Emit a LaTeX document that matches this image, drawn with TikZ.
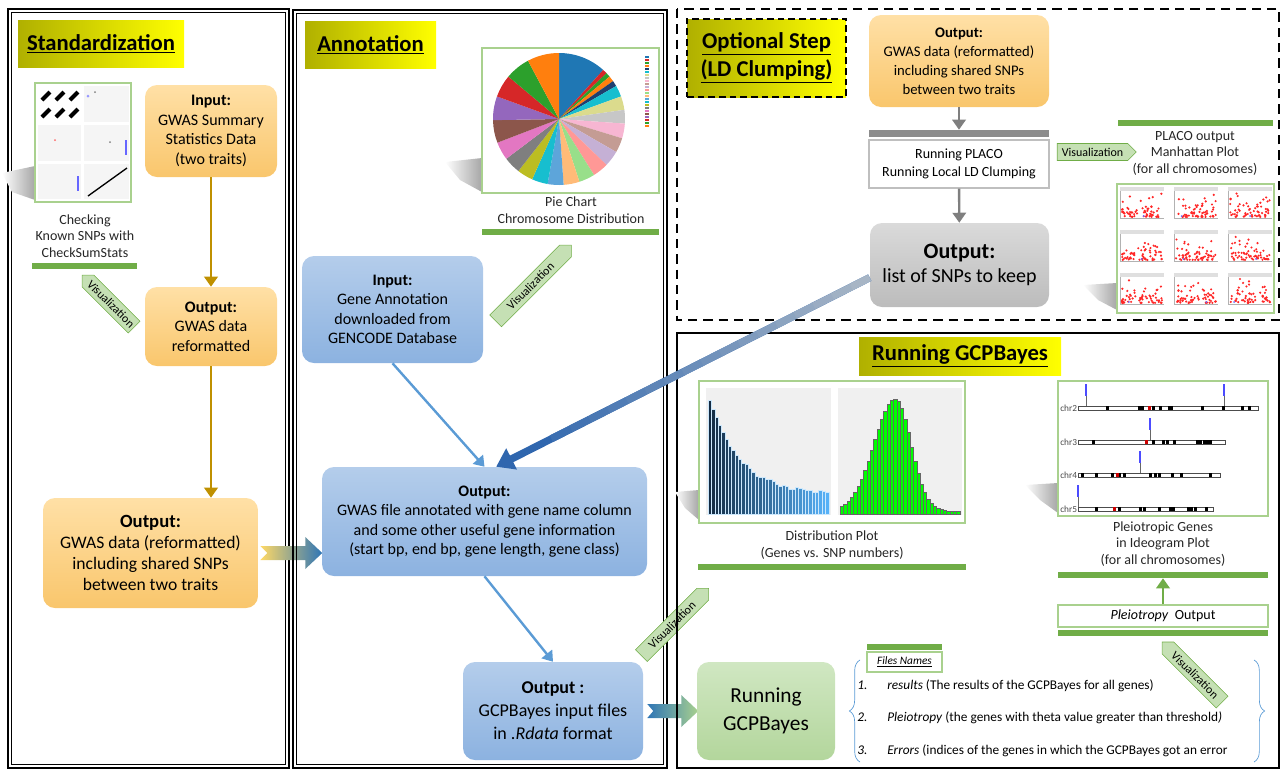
\documentclass[tikz,border=0pt]{standalone}
\usepackage{fontspec}
\setmainfont{Carlito}
\usepackage{tikz}
\usetikzlibrary{positioning,calc,arrows.meta,shapes.symbols,decorations.pathreplacing}

\definecolor{orangeT}{HTML}{FFE0A6}
\definecolor{orangeB}{HTML}{F9C66C}
\definecolor{blueT}{HTML}{B4CDEB}
\definecolor{blueB}{HTML}{8CB2E0}
\definecolor{greyT}{HTML}{DADADA}
\definecolor{greyB}{HTML}{BCBCBC}
\definecolor{greenT}{HTML}{D0E7C2}
\definecolor{greenB}{HTML}{B3D69C}
\definecolor{headL}{HTML}{B0B000}
\definecolor{headR}{HTML}{FFFF00}
\definecolor{barGreen}{HTML}{70AD47}
\definecolor{tagGreen}{HTML}{C5E0B4}
\definecolor{imgGreen}{HTML}{A9D18E}
\definecolor{gold}{HTML}{BF9000}
\definecolor{skyArrow}{HTML}{5B9BD5}
\definecolor{steel}{HTML}{2F66AE}
\definecolor{tailGrey}{HTML}{B4BEC8}
\definecolor{greyArrow}{HTML}{7F7F7F}
\definecolor{chevYellow}{HTML}{FFD966}
\definecolor{chevBlue}{HTML}{2E75B6}
\definecolor{distNavy}{HTML}{132B43}
\definecolor{distSky}{HTML}{56B1F7}
\definecolor{distGreen}{HTML}{00FF00}
% pie colours
\definecolor{tabblue}{HTML}{1F77B4}
\definecolor{tabred}{HTML}{D62728}
\definecolor{tabgreen}{HTML}{2CA02C}
\definecolor{taborange}{HTML}{FF7F0E}
\definecolor{tabnavy}{HTML}{1F3F6F}
\definecolor{tabcyan}{HTML}{17BECF}
\definecolor{tabolivel}{HTML}{DBDB8D}
\definecolor{tabgreyl}{HTML}{C7C7C7}
\definecolor{tabpinkl}{HTML}{F7B6D2}
\definecolor{tabbrownl}{HTML}{C49C94}
\definecolor{tablilac}{HTML}{C5B0D5}
\definecolor{tabsalmon}{HTML}{FF9896}
\definecolor{tabgreenl}{HTML}{98DF8A}
\definecolor{tabpeach}{HTML}{FFBB78}
\definecolor{tabmid}{HTML}{5DA5DA}
\definecolor{tabolive}{HTML}{BCBD22}
\definecolor{tabgrey}{HTML}{7F7F7F}
\definecolor{tabpink}{HTML}{E377C2}
\definecolor{tabbrown}{HTML}{8C564B}
\definecolor{tabpurple}{HTML}{9467BD}

\tikzset{
  boxsize/.style 2 args={minimum width=#1*0.75pt, minimum height=#2*0.75pt},
  heading/.style={left color=headL, right color=headR, align=center, inner sep=0pt,
    font=\fontsize{17}{21}\selectfont\bfseries},
  orangebox/.style={rounded corners=9pt, top color=orangeT, bottom color=orangeB,
    align=center, inner sep=1pt, font=\fontsize{12}{14.6}\selectfont},
  bluebox/.style={rounded corners=9pt, top color=blueT, bottom color=blueB,
    align=center, inner sep=1pt, font=\fontsize{12}{14.6}\selectfont},
  greybox/.style={rounded corners=9pt, top color=greyT, bottom color=greyB,
    align=center, inner sep=1pt},
  greenbox/.style={rounded corners=9pt, top color=greenT, bottom color=greenB,
    align=center, inner sep=1pt},
  thumb/.style={draw=imgGreen, line width=1.4pt, fill=white, inner sep=0pt},
  capt/.style={align=center, inner sep=0pt, text=black!85, font=\fontsize{10.5}{12.4}\selectfont},
  greenbar/.style={fill=barGreen, inner sep=0pt, minimum height=4.5pt},
  vis/.style={signal, signal to=#1, draw=barGreen, fill=tagGreen, inner sep=1.5pt,
    minimum height=12.5pt, font=\fontsize{9}{10}\selectfont},
  flow/.style={line width=2.2pt, -{Triangle[length=7.5pt,width=10pt]}},
  fade/.style={left color=white, right color=black!35, draw=none},
  item/.style={anchor=west, inner sep=0pt, font=\fontsize{10}{12}\selectfont}
}

\begin{document}
\begin{tikzpicture}[x=0.75pt,y=-0.75pt]
  \useasboundingbox (0,0) rectangle (1281,772);
  \pgfmathsetseed{11}

  %%%%% STANDARDIZATION
  \draw[line width=2pt] (8,9) rectangle (289,768);
  \draw[line width=0.7pt] (11.5,12.5) rectangle (285.5,764.5);
  \node[heading, boxsize={166}{47}] (HSTD) at (101,43.5) {\underline{Standardization}};
  \shade[fade] (35,166) -- (2,173) -- (12,192) -- (35,200) -- cycle;
  \node[thumb, boxsize={96}{119}] (CHECKIMG) at (83,142.5) {};
  \begin{scope}
    \fill[gray!8] (84,86) rectangle (129,122);
    \fill[gray!8] (38,125) rectangle (81,161);
    \fill[gray!8] (84,125) rectangle (129,161);
    \fill[gray!8] (38,164) rectangle (81,199);
    \fill[gray!8] (84,164) rectangle (129,199);
    \foreach \bx in {46,60,74}
      \foreach \by in {96,113}
        \draw[line width=3pt, black] (\bx-4,\by+4) -- (\bx+4,\by-4);
    \fill[blue!40] (88,96) circle[radius=1.5];
    \fill[gray] (95,92) circle[radius=1];
    \fill[red!60] (55,140) circle[radius=1];
    \fill[gray] (110,142) circle[radius=1];
    \fill[blue!60] (125,140) rectangle (127,155);
    \fill[blue!60] (77,176) rectangle (79,191);
    \draw[black, line width=1pt] (88,196) -- (127,168);
  \end{scope}
  \node[capt] (CHECKCAP) at (85,236) {Checking\\Known SNPs with\\CheckSumStats};
  \node[greenbar, minimum width=105*0.75pt] (CHECKBAR) at (84.5,265.5) {};
  \node[vis=west, rotate=-45, minimum width=70*0.75pt] (VISCHECK) at (111,304) {Visualization};

  \node[orangebox, boxsize={132}{92}] (INPUT) at (211,131)
    {\textbf{Input:}\\GWAS Summary\\Statistics Data\\(two traits)};
  \node[orangebox, boxsize={132}{79}] (REFORM) at (211,326.5)
    {\textbf{Output:}\\GWAS data\\reformatted};
  \node[orangebox, boxsize={215}{110}, font=\fontsize{13.2}{15.8}\selectfont] (SHARED) at (150.5,553)
    {{\fontsize{14}{16}\selectfont\bfseries Output:}\\GWAS data (reformatted)\\including shared SNPs\\between two traits};
  \draw[flow, gold] (INPUT) -- (REFORM);
  \draw[flow, gold] (REFORM.south) -- (REFORM.south |- SHARED.north);
  \begin{scope}[shift={(SHARED.east)}]
    \shade[left color=chevYellow, middle color=chevYellow!45!chevBlue, right color=chevBlue]
      (2,-7) -- (47,-7) -- (47,-16) -- (64,0) -- (47,16) -- (47,7) -- (2,7) -- (9,0) -- cycle;
  \end{scope}

  %%%%% ANNOTATION
  \draw[line width=2pt] (293,10) rectangle (667,768);
  \draw[line width=0.7pt] (296.5,13.5) rectangle (663.5,764.5);
  \node[heading, boxsize={131}{47}] (HANN) at (370.5,44.5) {\underline{Annotation}};
  \shade[fade] (482,158) -- (445,162) -- (460,180) -- (482,192) -- cycle;
  \node[thumb, boxsize={177}{145}] (PIEIMG) at (570.5,120.5) {};
  \begin{scope}[shift={(559,119)}]
    \foreach \a/\b/\c [count=\i] in {270/312/tabblue, 312/316/tabred, 316/320/tabgreen,
        320/325/taborange, 325/330/tabnavy, 330/340/tabcyan, 340/352/tabolivel,
        352/364/tabgreyl, 364/377/tabpinkl, 377/390/tabbrownl, 390/404/tablilac,
        404/418/tabsalmon, 418/432/tabgreenl, 432/446/tabpeach, 446/460/tabmid,
        460/474/tabcyan, 474/488/tabolive, 488/503/tabgrey, 503/519/tabpink,
        519/539/tabbrown, 539/560/tabpurple, 560/580/tabred, 580/602/tabgreen,
        602/630/taborange} {
      \fill[\c] (0,0) -- (\a:66) arc[start angle=\a, end angle=\b, radius=66] -- cycle;
      \fill[\c] (86,-66+3*\i) rectangle ++(4,2);
    }
  \end{scope}
  \node[capt] (PIECAP) at (571,210) {Pie Chart\\Chromosome Distribution};
  \node[greenbar, minimum width=177*0.75pt] (PIEBAR) at (570.5,232) {};
  \node[vis=east, rotate=45, minimum width=107*0.75pt] (VISPIE) at (530.5,286) {Visualization};

  \node[bluebox, boxsize={181}{107}] (GENEIN) at (392.5,309.5)
    {\textbf{Input:}\\Gene Annotation\\downloaded from\\GENCODE Database};
  \node[bluebox, boxsize={325}{109}] (ANNOT) at (484.5,521.5)
    {\textbf{Output:}\\GWAS file annotated with gene name column\\and some other useful gene information\\(start bp, end bp, gene length, gene class)};
  \node[bluebox, boxsize={180}{98}, font=\fontsize{13.5}{17.2}\selectfont] (GCPIN) at (553,711)
    {\textbf{Output :}\\GCPBayes input files\\in .\textit{Rdata} format};
  \draw[flow, skyArrow, line width=1.8pt] (GENEIN.south) -- (ANNOT.north);
  \draw[flow, skyArrow, line width=1.8pt] (ANNOT.south) -- (GCPIN.north);
  \node[vis=east, rotate=45, minimum width=95*0.75pt] (VISDIST) at (672,625) {Visualization};
  \begin{scope}[shift={(GCPIN.east)}]
    \shade[left color=chevBlue, right color=imgGreen]
      (4,-7) -- (38,-7) -- (38,-16) -- (55,0) -- (38,16) -- (38,7) -- (4,7) -- (10,0) -- cycle;
  \end{scope}

  %%%%% OPTIONAL STEP
  \draw[line width=2.2pt, dash pattern=on 7pt off 4.5pt] (677,9) rectangle (1279,320);
  \node[heading, draw, line width=1.4pt, dash pattern=on 5pt off 3pt, boxsize={159}{78}] (HOPT) at (766.5,58)
    {\underline{Optional Step}\\\underline{(LD Clumping)}};
  \node[orangebox, boxsize={180}{92}, font=\fontsize{11}{14.2}\selectfont] (SHARED2) at (959,61)
    {\textbf{Output:}\\GWAS data (reformatted)\\including shared SNPs\\between two traits};
  \node[fill=greyArrow!90, inner sep=0pt, boxsize={180}{7}] (GREYBAR) at (959,133.5) {};
  \node[draw=black!25, fill=white, line width=0.8pt, boxsize={180}{48}, align=center,
    font=\fontsize{10.5}{13.8}\selectfont] (PLACO) at (959,164) {Running PLACO\\Running Local LD Clumping};
  \node[greybox, boxsize={179}{84}, font=\fontsize{15}{18}\selectfont] (KEEP) at (959.5,265)
    {{\fontsize{16.5}{18}\selectfont\bfseries Output:}\\list of SNPs to keep};
  \draw[flow, greyArrow, line width=1.8pt] (SHARED2) -- (GREYBAR);
  \draw[flow, greyArrow, line width=1.8pt] (PLACO) -- (KEEP);
  \node[vis=east, boxsize={79}{17}] (VISPLACO) at (1092.5,152) {Visualization};
  \node[greenbar, minimum width=155*0.75pt] (MANBAR) at (1195.5,123) {};
  \node[capt] (MANCAP) at (1195,153) {PLACO output\\Manhattan Plot\\(for all chromosomes)};
  \shade[fade] (1117,283) -- (1083,285) -- (1098,300) -- (1117,310) -- cycle;
  \node[thumb, boxsize={157}{129}] (MANIMG) at (1195.5,248.5) {};
  \foreach \cx in {1120,1174,1228}
    \foreach \ry in {187,230,273} {
      \fill[gray!25] (\cx,\ry) rectangle ++(44,4);
      \draw[gray!60, line width=0.2pt] (\cx,\ry+4) -- (\cx,\ry+31) -- (\cx+44,\ry+31);
      \foreach \k in {1,...,60} {
        \pgfmathsetmacro\dx{2+40*rnd}
        \pgfmathsetmacro\dy{25*rnd*rnd}
        \fill[red!85] (\cx+\dx,\ry+30-\dy) circle[radius=1.2];
      }
      \fill[blue!60] (\cx+30*rnd+5,\ry+29) circle[radius=1];
    }

  %%%%% RUNNING GCPBAYES
  \draw[line width=2.2pt] (677,333) rectangle (1279,768);
  \node[heading, boxsize={202}{38}] (HGCP) at (960,356) {\underline{Running GCPBayes}};
  \shade[fade] (699,490) -- (675,492) -- (685,508) -- (699,520) -- cycle;
  \node[thumb, boxsize={266}{142}] (DISTIMG) at (832,452) {};
  \fill[gray!12] (706,388) rectangle (831,515);
  \fill[gray!12] (838,388) rectangle (962,515);
  \foreach \i in {0,...,35} {
    \pgfmathsetmacro\h{18+95*exp(-\i/9)+4*rnd}
    \pgfmathtruncatemacro\m{100-100*\i/35}
    \filldraw[fill=distNavy!\m!distSky, draw=white!70!distSky, line width=0.15pt] (708+3.35*\i,514) rectangle ++(3.35,-\h);
    \pgfmathsetmacro\g{3+112*exp(-((\i-16)^2)/ifthenelse(\i<16,80,45))}
    \filldraw[fill=distGreen, draw=black!60, line width=0.15pt] (840+3.33*\i,514) rectangle ++(3.33,-\g);
  }
  \node[capt] (DISTCAP) at (832,545) {Distribution Plot\\(Genes vs. SNP numbers)};
  \node[greenbar, minimum width=268*0.75pt] (DISTBAR) at (832,567) {};

  \shade[fade] (1058,483) -- (1025,485) -- (1040,500) -- (1058,513) -- cycle;
  \node[thumb, boxsize={210}{135}] (IDEOIMG) at (1163,448.5) {};
  \foreach \y/\e/\c/\lab [count=\i] in {408/1258/1148/chr2, 442/1225/1145/chr3,
      475/1220/1116/chr4, 509/1213/1113/chr5} {
    \node[anchor=west, inner sep=0pt, text=black!70, font=\fontsize{7}{8}\selectfont] (CHR\i) at (1060,\y) {\lab};
    \draw[black!70, line width=0.4pt, fill=white] (1078,\y-2) rectangle (\e,\y+2);
    \foreach \k in {1,...,12} {
      \pgfmathsetmacro\bx{1080+(\e-1086)*rnd}
      \fill[black] (\bx,\y-2) rectangle ++(3,4);
    }
    \fill[red!80!black] (\c,\y-2) rectangle ++(3,4);
  }
  \foreach \gx/\gy in {1086/408, 1224/408, 1150/442, 1140/475, 1078/509} {
    \draw[blue!70, line width=1.2pt] (\gx,\gy-24) -- (\gx,\gy-12);
    \draw[black!60, line width=0.3pt] (\gx,\gy-12) -- (\gx,\gy-2);
  }
  \node[capt] (IDEOCAP) at (1163,544) {Pleiotropic Genes\\in Ideogram Plot\\(for all chromosomes)};
  \node[greenbar, minimum width=210*0.75pt] (IDEOBAR) at (1163,575) {};
  \node[draw=imgGreen, line width=1pt, fill=white, boxsize={210}{22},
    font=\fontsize{10.5}{12}\selectfont] (PLEIO) at (1163,616) {\textit{Pleiotropy}\ \ Output};
  \node[greenbar, minimum width=210*0.75pt] (PLEIOBAR) at (1163,632.5) {};
  \draw[flow, barGreen] (PLEIO) -- (IDEOBAR);
  \node[vis=west, rotate=-45, minimum width=85*0.75pt] (VISPLEIO) at (1195,675) {Visualization};

  \node[greenbox, boxsize={138}{98}, font=\fontsize{16}{21}\selectfont] (RUNGCP) at (766,711) {Running\\GCPBayes};
  \node[greenbar, minimum width=75*0.75pt] (FILESBAR) at (904.5,647) {};
  \node[draw=imgGreen, line width=0.8pt, fill=white, boxsize={75}{20},
    font=\fontsize{8.5}{10}\selectfont] (FILES) at (904.5,662) {\textit{\underline{Files Names}}};
  \draw[skyArrow, line width=0.5pt, decorate, decoration={brace, amplitude=8pt}] (860,762) -- (860,660);
  \draw[skyArrow, line width=0.5pt, decorate, decoration={brace, amplitude=8pt}] (1254,660) -- (1254,762);
  \node[item] (ITEMA) at (857,686) {\makebox[22.5pt][l]{\textit{1.}}\textit{results} (The results of the GCPBayes for all genes)};
  \node[item] (ITEMB) at (857,718) {\makebox[22.5pt][l]{\textit{2.}}\textit{Pleiotropy} (the genes with theta value greater than threshold\textit{)}};
  \node[item] (ITEMC) at (857,751) {\makebox[22.5pt][l]{\textit{3.}}\textit{Errors} (indices of the genes in which the GCPBayes got an error};

  %%%%% LINK FROM LD CLUMPING TO THE ANNOTATION
  \draw[line width=5.5pt, steel, -{Triangle[length=13pt,width=17pt]}] (KEEP.188) -- (ANNOT.78);
  \foreach \t [evaluate=\t as \p using {int(10+100*\t)}] in {0,0.05,...,0.85}
    \draw[line width=5.5pt, steel!\p!tailGrey] ($(KEEP.188)!\t!(ANNOT.78)$) -- ($(KEEP.188)!\t+0.052!(ANNOT.78)$);
\end{tikzpicture}
\end{document}
